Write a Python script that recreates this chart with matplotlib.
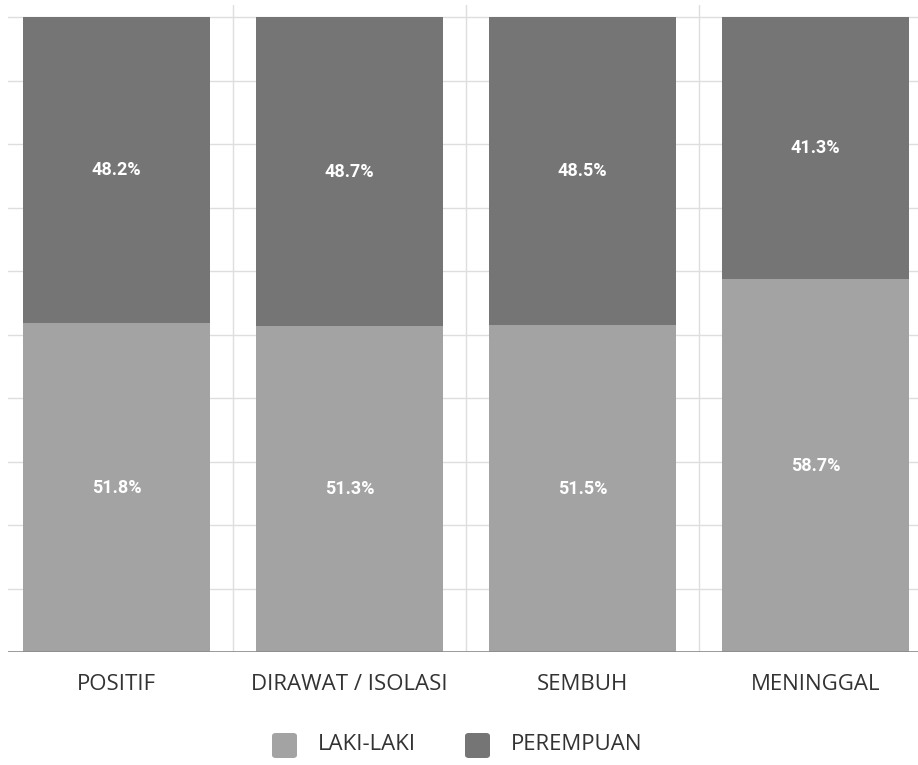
import matplotlib.pyplot as plt
from matplotlib.patches import FancyBboxPatch
import numpy as np

categories = ['POSITIF', 'DIRAWAT / ISOLASI', 'SEMBUH', 'MENINGGAL']
laki_laki = [51.8, 51.3, 51.5, 58.7]
perempuan = [48.2, 48.7, 48.5, 41.3]
series_names = ['LAKI-LAKI', 'PEREMPUAN']

light = '#a3a3a3'
dark = '#757575'
grid_color = '#dedede'
text_color = '#333333'

plt.rcParams['font.family'] = ['Open Sans', 'DejaVu Sans']

fig = plt.figure(figsize=(9.18, 7.65), dpi=100)
W, H = 918, 765
# plot area spills slightly past the right edge
x0_px, x1_px = 8, 932
ax = fig.add_axes([x0_px / W, 1 - 652 / H, (x1_px - x0_px) / W, (652 - 5) / H])

x = np.arange(len(categories))
width = 0.80

ax.bar(x, laki_laki, width, color=light, zorder=2)
ax.bar(x, perempuan, width, bottom=laki_laki, color=dark, zorder=2)

for i in range(len(categories)):
    ax.text(x[i], laki_laki[i] / 2, f'{laki_laki[i]:.1f}%', ha='center', va='center',
            color='white', fontsize=13, fontweight='bold', family='Roboto', zorder=3)
    ax.text(x[i], laki_laki[i] + perempuan[i] / 2, f'{perempuan[i]:.1f}%', ha='center',
            va='center', color='white', fontsize=13, fontweight='bold', family='Roboto',
            zorder=3)

ax.set_xlim(-0.5 + 8 / 233, 3.5)
ax.set_ylim(0, 101.9)

# horizontal grid every 10%
for yv in range(10, 101, 10):
    ax.axhline(yv, color=grid_color, lw=1, zorder=1)
# separators between categories
for xv in [0.5, 1.5, 2.5]:
    ax.axvline(xv, color=grid_color, lw=1, zorder=1)
ax.axhline(0, color='#8a8a8a', lw=1.2, zorder=3)

for s in ax.spines.values():
    s.set_visible(False)
ax.set_yticks([])
ax.set_xticks(x)
ax.set_xticklabels(categories, fontsize=16, color=text_color)
ax.tick_params(axis='x', length=0, pad=16)

# legend with rounded swatches
legend_items = [(272, series_names[0], light), (465, series_names[1], dark)]
for px, name, col in legend_items:
    sw = FancyBboxPatch(((px) / W, 1 - 758 / H), 25 / W, 25 / H,
                        boxstyle='round,pad=0,rounding_size=0.004',
                        transform=fig.transFigure, facecolor=col, edgecolor='none')
    fig.patches.append(sw)
    fig.text((px + 46) / W, 1 - 745 / H, name, ha='left', va='center',
             fontsize=16, color=text_color)

fig.savefig('out.png', dpi=100)
